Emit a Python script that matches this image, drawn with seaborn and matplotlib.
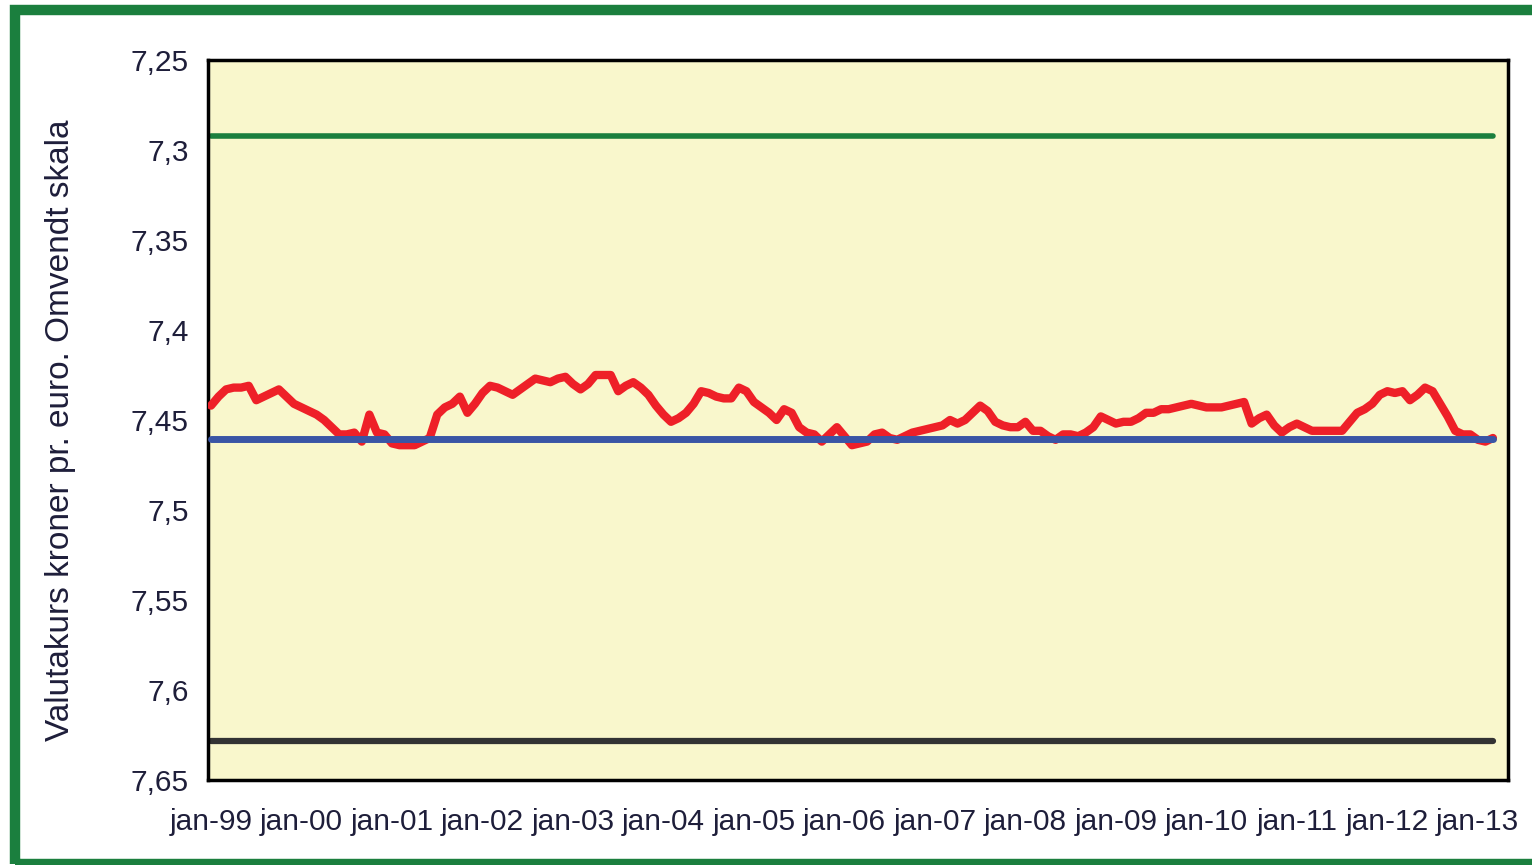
import matplotlib as mat
import matplotlib.pyplot as plt
import matplotlib.patches as patches
import seaborn as sns
import numpy as np
import pandas as pd

sns.set_style('white')
mat.rcParams['font.family'] = ['Liberation Sans', 'DejaVu Sans']

# monthly DKK per EUR, jan-99 .. mar-13
rate = [
    7.442, 7.437, 7.433, 7.432, 7.432, 7.431, 7.439, 7.437, 7.435, 7.433, 7.437, 7.441,  # 1999
    7.443, 7.445, 7.447, 7.450, 7.454, 7.458, 7.458, 7.457, 7.462, 7.447, 7.457, 7.458,  # 2000
    7.463, 7.464, 7.464, 7.464, 7.462, 7.460, 7.447, 7.443, 7.441, 7.437, 7.446, 7.441,  # 2001
    7.435, 7.431, 7.432, 7.434, 7.436, 7.433, 7.430, 7.427, 7.428, 7.429, 7.427, 7.426,  # 2002
    7.430, 7.433, 7.430, 7.425, 7.425, 7.425, 7.434, 7.431, 7.429, 7.432, 7.436, 7.442,  # 2003
    7.447, 7.451, 7.449, 7.446, 7.441, 7.434, 7.435, 7.437, 7.438, 7.438, 7.432, 7.434,  # 2004
    7.440, 7.443, 7.446, 7.450, 7.444, 7.446, 7.454, 7.457, 7.458, 7.462, 7.458, 7.454,  # 2005
    7.459, 7.464, 7.463, 7.462, 7.458, 7.457, 7.460, 7.461, 7.459, 7.457, 7.456, 7.455,  # 2006
    7.454, 7.453, 7.450, 7.452, 7.450, 7.446, 7.442, 7.445, 7.451, 7.453, 7.454, 7.454,  # 2007
    7.451, 7.456, 7.456, 7.459, 7.461, 7.458, 7.458, 7.459, 7.457, 7.454, 7.448, 7.450,  # 2008
    7.452, 7.451, 7.451, 7.449, 7.446, 7.446, 7.444, 7.444, 7.443, 7.442, 7.441, 7.442,  # 2009
    7.443, 7.443, 7.443, 7.442, 7.441, 7.440, 7.452, 7.449, 7.447, 7.453, 7.457, 7.454,  # 2010
    7.452, 7.454, 7.456, 7.456, 7.456, 7.456, 7.456, 7.451, 7.446, 7.444, 7.441, 7.436,  # 2011
    7.434, 7.435, 7.434, 7.439, 7.436, 7.432, 7.434, 7.441, 7.448, 7.456, 7.458, 7.458,  # 2012
    7.461, 7.462, 7.460,                                                                  # 2013
]
upper_band = 7.29238
central_rate = 7.46038
lower_band = 7.62824
tick_labels = ['jan-%02d' % (y % 100) for y in range(1999, 2014)]
y_ticks = [7.25, 7.3, 7.35, 7.4, 7.45, 7.5, 7.55, 7.6, 7.65]
y_tick_labels = ['7,25', '7,3', '7,35', '7,4', '7,45', '7,5', '7,55', '7,6', '7,65']

df = pd.DataFrame({'month': np.arange(len(rate)), 'rate': rate})
last = len(rate) - 1

fig = plt.figure(figsize=(15.32, 8.65), dpi=100)
ax = fig.add_axes([208/1532, 1-780/865, 1300/1532, 720/865])
ax.set_facecolor('#f9f7cc')

ax.hlines(upper_band, 0, last, color='#1b7f3e', lw=4, capstyle='round', zorder=2)
ax.hlines(lower_band, 0, last, color='#333333', lw=4.5, capstyle='round', zorder=2)
sns.lineplot(data=df, x='month', y='rate', ax=ax, color='#ee2028', lw=6,
             solid_capstyle='round', solid_joinstyle='round', zorder=3)
ax.hlines(central_rate, 0, last, color='#3a55a5', lw=5, capstyle='round', zorder=4)

ax.set_xlim(-0.4, 172)
ax.set_ylim(7.65, 7.25)
ax.set_xticks(np.arange(0, len(tick_labels) * 12, 12))
ax.set_xticklabels(tick_labels, fontsize=21.5, color='#1e1e3a')
ax.set_yticks(y_ticks)
ax.set_yticklabels(y_tick_labels, fontsize=21.5, color='#1e1e3a')
ax.tick_params(axis='x', direction='in', length=10, width=2, pad=20, color='black')
ax.tick_params(axis='y', direction='inout', length=14, width=2, pad=7, color='black')
ax.set_xlabel('')
ax.set_ylabel('Valutakurs kroner pr. euro. Omvendt skala', fontsize=24, color='#1e1e3a', labelpad=39)
ax.yaxis.label.set_y(0.486)
for s in ax.spines.values():
    s.set_visible(True)
    s.set_color('black')
    s.set_linewidth(2.5)

# green frame around the figure
fig.patches.append(patches.Rectangle((15/1532, 1-864/865), 1.2, 854/865, fill=False,
                                     edgecolor='#1b7f3e', lw=7.5, transform=fig.transFigure))

fig.savefig('out.png', dpi=100)
